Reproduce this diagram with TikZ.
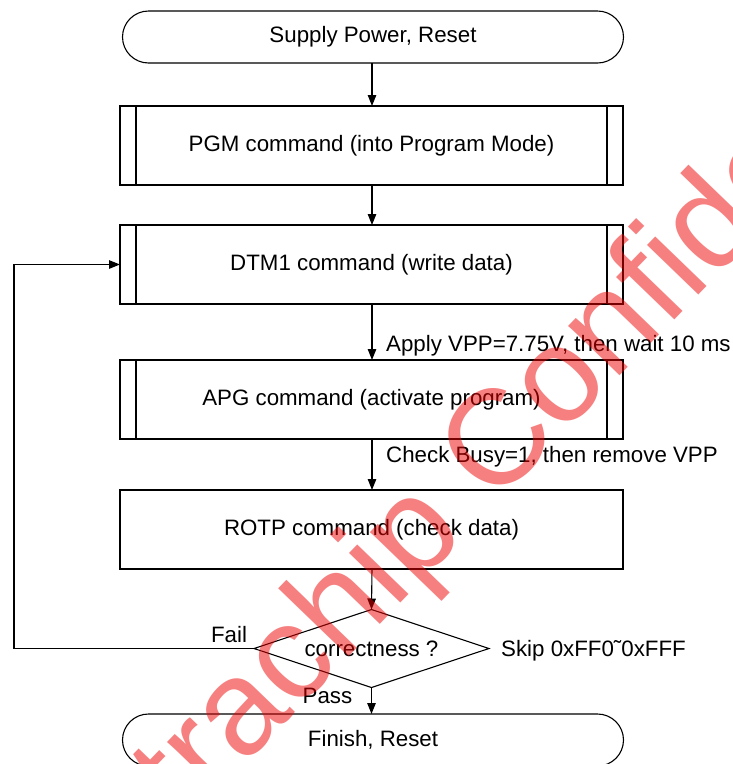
\documentclass[tikz,border=0pt]{standalone}
\usepackage{fontspec}
\setmainfont{Liberation Sans}
\usetikzlibrary{shapes.geometric,shapes.misc,arrows.meta}

\definecolor{wmred}{RGB}{238,0,0}

\tikzset{
  base/.style={draw=black, line width=1.1pt, inner sep=0pt, outer sep=0pt,
    font=\fontsize{22.3}{26}\selectfont},
  terminal/.style={base, rounded rectangle, minimum width=501pt, minimum height=52pt},
  procbox/.style={base, rectangle, minimum width=503pt, minimum height=79pt},
  predef/.style={procbox, path picture={
      \draw[line width=1.1pt]
        ([xshift=16pt]path picture bounding box.north west) --
        ([xshift=16pt]path picture bounding box.south west)
        ([xshift=-16pt]path picture bounding box.north east) --
        ([xshift=-16pt]path picture bounding box.south east);}},
  decision/.style={base, diamond, aspect=3, minimum width=235pt, minimum height=78pt},
  lbl/.style={inner sep=0pt, font=\fontsize{22.3}{26}\selectfont},
  arr/.style={line width=1.1pt, -{Triangle[length=11pt,width=8.5pt]}},
  stamp/.style={inner sep=0pt, text=wmred, opacity=0.5, rotate=46,
    font=\fontsize{135}{135}\selectfont}
}

\begin{document}
\begin{tikzpicture}[x=1pt, y=-1pt]
  \useasboundingbox (0,0) rectangle (733,764);
  \begin{scope}
    \clip (0,0) rectangle (733,764);

    % flow steps
    \node[terminal] (start) at (373,37) {Supply Power, Reset};
    \node[predef]   (pgm)   at (371.5,145.5) {PGM command (into Program Mode)};
    \node[predef]   (dtm)   at (371.5,264.5) {DTM1 command (write data)};
    \node[predef]   (apg)   at (371.5,399.5) {APG command (activate program)};
    \node[procbox]  (rotp)  at (371.5,529.5) {ROTP command (check data)};
    \node[decision] (chk)   at (371.5,648.5) {correctness ?};
    \node[terminal] (fin)   at (373,740) {Finish, Reset};

    % connectors
    \draw[arr] (start.south -| 372,0) -- (pgm.north -| 372,0);
    \draw[arr] (pgm.south -| 372,0) -- (dtm.north -| 372,0);
    \draw[arr] (dtm.south -| 372,0) -- (apg.north -| 372,0);
    \draw[arr] (apg.south -| 372,0) -- (rotp.north -| 372,0);
    \draw[arr] (rotp.south -| 372,0) -- (chk.north);
    \draw[arr] (chk.south) -- (fin.north -| chk.south);
    \coordinate (loop) at (14,400);
    \draw[arr] (chk.west) -- (chk.west -| loop) |- (dtm.west);

    % annotations
    \node[lbl, anchor=base west] (vpp)  at (386,351) {Apply VPP=7.75V, then wait 10 ms};
    \node[lbl, anchor=base west] (busy) at (386,462) {Check Busy=1, then remove VPP};
    \node[lbl, anchor=base]      (fail) at (229,642) {Fail};
    \node[lbl, anchor=base]      (pass) at (327.5,703) {Pass};
    \node[lbl, anchor=base west] (skip) at (501,656) {Skip 0xFF0˜0xFFF};

    % diagonal stamp across the sheet
    \node[stamp, anchor=base east] (stampa) at (468,534) {Ultrachip};
    \node[stamp, anchor=base west] (stampb) at (494,507) {Confidential};
  \end{scope}
\end{tikzpicture}
\end{document}
